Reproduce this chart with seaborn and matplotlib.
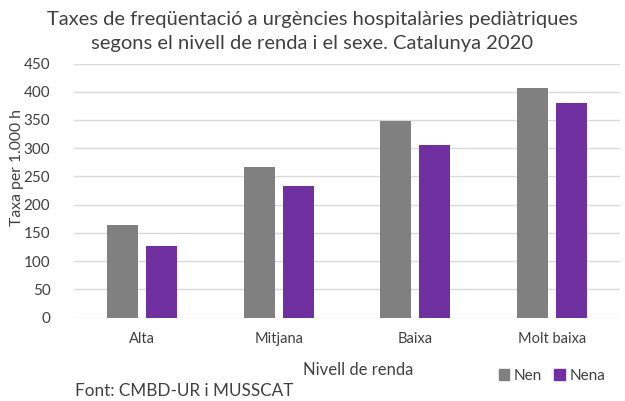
import pandas as pd
import seaborn as sns
import matplotlib.pyplot as plt

nivells = ["Alta", "Mitjana", "Baixa", "Molt baixa"]
nen = [164, 267, 348, 407]
nena = [127, 233, 306, 380]
sexes = ["Nen", "Nena"]
colors = ["#808080", "#7030A0"]

df = pd.DataFrame({
    "nivell": nivells * 2,
    "sexe": ["Nen"] * 4 + ["Nena"] * 4,
    "taxa": nen + nena,
})

sns.set_theme(style="white")
plt.rcParams["font.family"] = ["Lato", "DejaVu Sans"]
txt = "#404040"

fig = plt.figure(figsize=(6.25, 4.01), dpi=100)
ax = fig.add_axes([74 / 625, 1 - 317.7 / 401, 546 / 625, (317.7 - 63.5) / 401])

sns.barplot(data=df, x="nivell", y="taxa", hue="sexe", order=nivells,
            hue_order=sexes, palette=colors, width=0.572, gap=0.21,
            saturation=1, edgecolor="none", ax=ax, legend=False)

ax.set_ylim(0, 450)
ax.set_yticks(range(0, 451, 50))
ax.yaxis.grid(True, color="#D9D9D9", linewidth=1)
ax.set_axisbelow(True)
for s in ax.spines.values():
    s.set_visible(False)
ax.tick_params(axis="both", length=0, labelsize=11, colors=txt)
ax.tick_params(axis="y", pad=17)
ax.tick_params(axis="x", pad=10, labelsize=10.5)

ax.set_ylabel("Taxa per 1.000 h", fontsize=11.3, color=txt)
ax.yaxis.set_label_coords(-0.091, 0.589)
ax.set_xlabel("Nivell de renda", fontsize=12, color=txt)
ax.xaxis.set_label_coords(0.52, -0.175)

fig.suptitle("Taxes de freqüentació a urgències hospitalàries pediàtriques\n"
             "segons el nivell de renda i el sexe. Catalunya 2020",
             x=0.5, y=0.972, fontsize=14.5, color=txt, linespacing=1.45)

handles = [plt.Rectangle((0, 0), 1, 1, color=c) for c in colors]
fig.legend(handles, sexes, loc="center", bbox_to_anchor=(552 / 625, 1 - 376 / 401),
           ncol=2, frameon=False, fontsize=11, handlelength=0.7, handleheight=0.7,
           handletextpad=0.3, columnspacing=0.8, labelcolor=txt)

fig.text(75 / 625, 1 - 391 / 401, "Font: CMBD-UR i MUSSCAT", fontsize=12.3,
         color=txt, va="center", ha="left")

fig.savefig("out.png", dpi=100)
